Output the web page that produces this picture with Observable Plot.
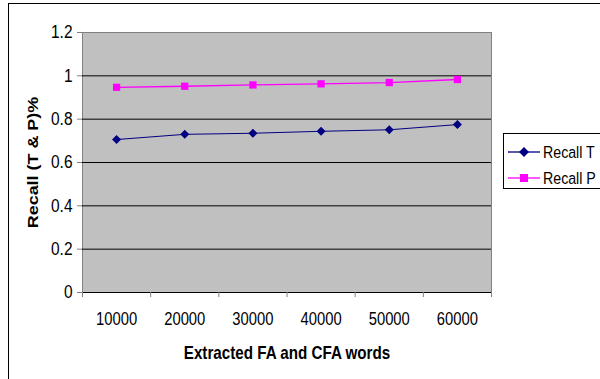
<!DOCTYPE html>
<html>
<head>
<meta charset="utf-8">
<script src="https://cdn.jsdelivr.net/npm/d3@7"></script>
<script src="https://cdn.jsdelivr.net/npm/@observablehq/plot@0.6"></script>
<style>
  html, body { margin: 0; padding: 0; background: #fff; }
  #wrap { position: relative; width: 600px; height: 379px; overflow: hidden; font-family: "Liberation Sans", Arial, sans-serif; }
  #border { position: absolute; left: 8px; top: 3px; width: 700px; height: 500px; border: 1px solid #000; box-sizing: border-box; }
  #chart { position: absolute; left: 0; top: 0; }
  #legend { position: absolute; left: 503px; top: 133px; width: 120px; height: 56px; border: 1px solid #000; box-sizing: border-box; background: #fff; font-size: 14.2px; }
  .row { position: absolute; left: 4px; height: 20px; display: flex; align-items: center; white-space: nowrap; }
  .row svg { margin-right: 3px; }
  .row span { display: inline-block; transform: scaleY(1.18); }
</style>
</head>
<body>
<div id="wrap">
  <div id="border"></div>
  <div id="chart"></div>
  <div id="legend"></div>
</div>
<script>
const words = [10000, 20000, 30000, 40000, 50000, 60000];
const recallT = [0.706, 0.730, 0.735, 0.744, 0.751, 0.775];
const recallP = [0.947, 0.952, 0.958, 0.963, 0.969, 0.983];
const seriesNames = ["Recall T", "Recall P"];
const seriesColors = ["#000080", "#FF00FF"];
const yTicks = [0, 0.2, 0.4, 0.6, 0.8, 1, 1.2];

const step = words[1] - words[0];
const boundaries = words.map(v => v - step / 2).concat([words[words.length - 1] + step / 2]);

const rotatedSquare = {
  draw(context, size) {
    const h = Math.sqrt(size) / Math.SQRT2;
    context.moveTo(0, -h); context.lineTo(h, 0); context.lineTo(0, h); context.lineTo(-h, 0); context.closePath();
  }
};

const dataT = words.map((w, i) => ({x: w, y: recallT[i]}));
const dataP = words.map((w, i) => ({x: w, y: recallP[i]}));

const chart = Plot.plot({
  width: 600,
  height: 379,
  marginLeft: 82,
  marginTop: 32,
  marginRight: 109,
  marginBottom: 87,
  style: {fontFamily: "'Liberation Sans', Arial, sans-serif", fontSize: "15px", color: "#000", background: "transparent"},
  x: {domain: [boundaries[0], boundaries[boundaries.length - 1]]},
  y: {domain: [0, 1.2]},
  marks: [
    Plot.frame({fill: "#C0C0C0", stroke: "#808080"}),
    Plot.gridY(yTicks.slice(1, -1), {stroke: "#000", strokeOpacity: 1}),
    Plot.ruleY([0], {stroke: "#000"}),
    Plot.axisY({ticks: yTicks, tickSize: 5, tickPadding: 5, tickFormat: d => String(d), stroke: "#808080", fontSize: 15.5,
      label: "Recall (T & P)%", labelAnchor: "center", labelArrow: "none", labelOffset: 55, fontWeight: "bold"}),
    Plot.axisX({ticks: boundaries, tickSize: 5, tickFormat: () => "", stroke: "#808080", label: null}),
    Plot.axisX({ticks: words, tickSize: 0, tickPadding: 20, tickFormat: d => String(d), fontSize: 14.8,
      label: "Extracted FA and CFA words", labelAnchor: "center", labelArrow: "none", labelOffset: 66, fontWeight: "bold"}),
    Plot.line(dataT, {x: "x", y: "y", stroke: seriesColors[0], strokeWidth: 1}),
    Plot.line(dataP, {x: "x", y: "y", stroke: seriesColors[1], strokeWidth: 1.3}),
    Plot.dot(dataT, {x: "x", y: "y", symbol: rotatedSquare, r: 3.6, fill: seriesColors[0], stroke: "none"}),
    Plot.dot(dataP, {x: "x", y: "y", symbol: "square", r: 4.1, fill: seriesColors[1], stroke: "none"})
  ]
});
const K = 1.18; // the reference's text is stretched vertically
function stretch(sel, sx, sy) {
  chart.querySelectorAll(sel).forEach(t => {
    const tr = t.getAttribute("transform");
    if (tr) {
      t.setAttribute("transform", tr + ` scale(${sx},${sy})`);
    } else {
      const x = +(t.getAttribute("x") || 0), y = +(t.getAttribute("y") || 0);
      t.setAttribute("transform", `translate(${x},${y}) scale(${sx},${sy}) translate(${-x},${-y})`);
    }
  });
}
chart.querySelectorAll("g[aria-label='y-axis tick label'], g[aria-label='x-axis tick label']").forEach(g => g.setAttribute("font-weight", "normal"));
chart.querySelectorAll("g[aria-label='y-axis label'] text, g[aria-label='x-axis label'] text").forEach(t => t.setAttribute("font-size", "15.2"));
stretch("g[aria-label='y-axis tick label'] text, g[aria-label='x-axis tick label'] text, g[aria-label='x-axis label'] text", 1, K);
stretch("g[aria-label='y-axis label'] text", K, 1);
document.getElementById("chart").appendChild(chart);

const legend = document.getElementById("legend");
seriesNames.forEach((name, i) => {
  const row = document.createElement("div");
  row.className = "row";
  row.style.top = (8 + i * 26) + "px";
  const marker = i === 0
    ? `<polygon points="16,1 21,6 16,11 11,6" fill="${seriesColors[i]}"/>`
    : `<rect x="12" y="2" width="8" height="8" fill="${seriesColors[i]}"/>`;
  row.innerHTML = `<svg width="32" height="12"><line x1="0" y1="6" x2="32" y2="6" stroke="${seriesColors[i]}" stroke-width="1.3"/>${marker}</svg><span>${name}</span>`;
  legend.appendChild(row);
});
</script>
</body>
</html>
